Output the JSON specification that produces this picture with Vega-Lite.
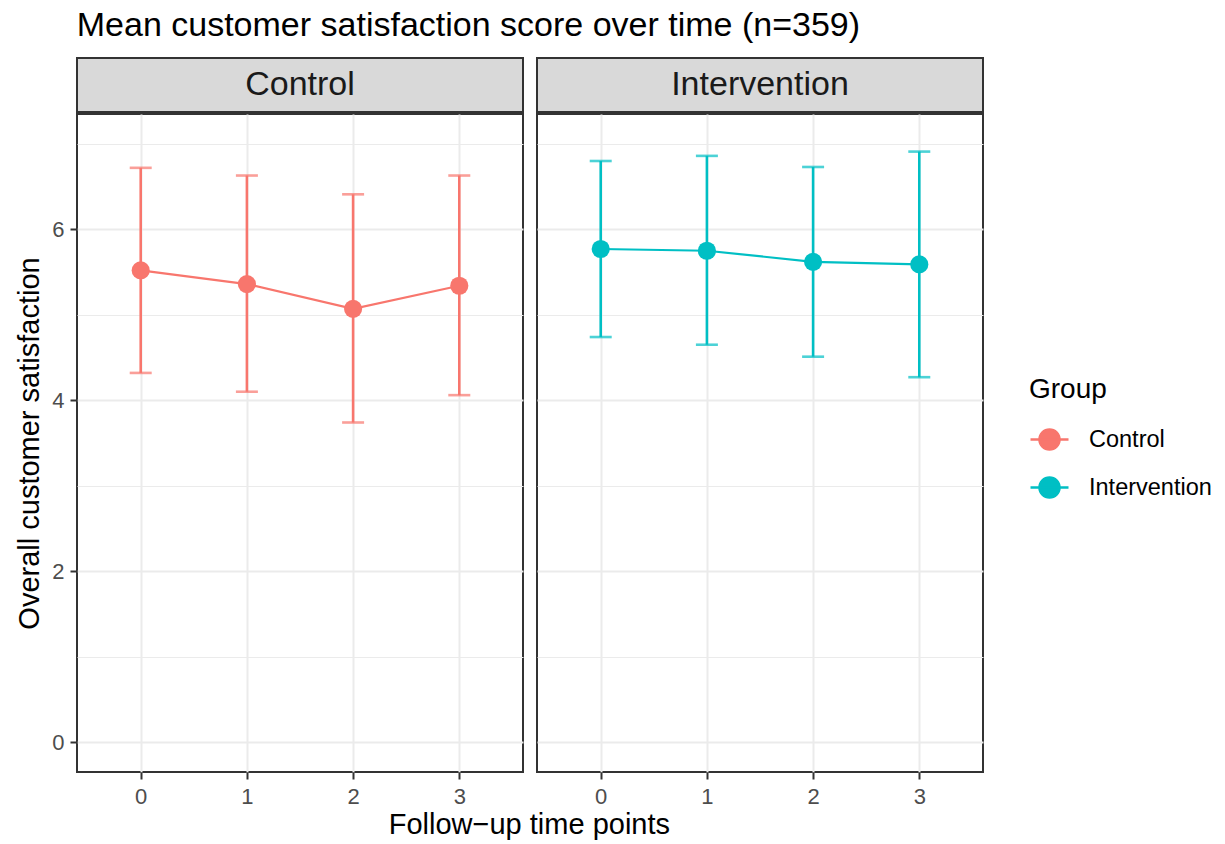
{
  "$schema": "https://vega.github.io/schema/vega-lite/v6.json",
  "padding": {"left": 14, "top": 9, "right": 10, "bottom": 8},
  "background": "white",
  "title": {
    "text": "Mean customer satisfaction score over time (n=359)",
    "anchor": "start",
    "frame": "bounds",
    "font": "Liberation Sans",
    "fontSize": 34,
    "fontWeight": "normal",
    "color": "#000000",
    "dx": 62,
    "offset": 14
  },
  "data": {
    "values": [
      {"Group": "Control", "time": 0, "mean": 5.52, "lower": 4.32, "upper": 6.72},
      {"Group": "Control", "time": 1, "mean": 5.36, "lower": 4.10, "upper": 6.63},
      {"Group": "Control", "time": 2, "mean": 5.07, "lower": 3.74, "upper": 6.41},
      {"Group": "Control", "time": 3, "mean": 5.34, "lower": 4.06, "upper": 6.63},
      {"Group": "Intervention", "time": 0, "mean": 5.77, "lower": 4.74, "upper": 6.80},
      {"Group": "Intervention", "time": 1, "mean": 5.75, "lower": 4.65, "upper": 6.86},
      {"Group": "Intervention", "time": 2, "mean": 5.62, "lower": 4.51, "upper": 6.73},
      {"Group": "Intervention", "time": 3, "mean": 5.59, "lower": 4.27, "upper": 6.91}
    ]
  },
  "config": {
    "font": "Liberation Sans",
    "view": {"stroke": "#333333", "strokeWidth": 2},
    "axis": {
      "domain": false,
      "gridColor": "#ebebeb",
      "tickColor": "#333333",
      "tickWidth": 2,
      "tickSize": 7,
      "labelColor": "#4d4d4d",
      "labelFont": "Liberation Sans",
      "labelFontSize": 22,
      "titleFont": "Liberation Sans",
      "titleFontSize": 29,
      "titleFontWeight": "normal",
      "titleColor": "#000000"
    }
  },
  "vconcat": [
    {
      "title": {
        "text": "Follow−up time points",
        "orient": "bottom",
        "anchor": "middle",
        "frame": "bounds",
        "font": "Liberation Sans",
        "fontSize": 29,
        "fontWeight": "normal",
        "color": "#000000",
        "dx": 30,
        "offset": 3
      },
      "spacing": 12,
      "hconcat": [
        {
          "spacing": 0,
          "vconcat": [
            {
              "width": 446,
              "height": 54,
              "view": {"fill": "#d9d9d9", "stroke": "#333333", "strokeWidth": 2},
              "transform": [
                {"filter": "datum.Group === 'Control'"},
                {"aggregate": [{"op": "count", "as": "n"}], "groupby": ["Group"]}
              ],
              "mark": {"type": "text", "font": "Liberation Sans", "fontSize": 34, "color": "#1a1a1a", "baseline": "middle", "align": "center"},
              "encoding": {"text": {"field": "Group", "type": "nominal"}}
            },
            {
              "width": 446,
              "height": 658,
              "transform": [{"filter": "datum.Group === 'Control'"}],
              "encoding": {
                "x": {
                  "field": "time",
                  "type": "quantitative",
                  "scale": {"domain": [-0.6, 3.6], "nice": false, "zero": false},
                  "axis": {
                    "values": [0, 1, 2, 3],
                    "format": "d",
                    "grid": true,
                    "gridWidth": 2,
                    "labelPadding": 7,
                    "title": null
                  }
                },
                "color": {
                  "field": "Group",
                  "type": "nominal",
                  "scale": {"domain": ["Control", "Intervention"], "range": ["#F8766D", "#00BFC4"]},
                  "legend": {
                    "orient": "none",
                    "legendX": 952,
                    "legendY": 318,
                    "title": "Group",
                    "titleFontSize": 28,
                    "titleFontWeight": "normal",
                    "titleColor": "#000000",
                    "titlePadding": 15,
                    "labelFontSize": 23.5,
                    "labelColor": "#000000",
                    "labelOffset": 19,
                    "symbolType": "M-1,0L1,0M0.53,0A0.53,0.53,0,1,1,-0.53,0A0.53,0.53,0,1,1,0.53,0Z",
                    "symbolSize": 1444,
                    "symbolStrokeWidth": 2.4,
                    "rowPadding": 12,
                    "encode": {
                      "symbols": {
                        "update": {
                          "fill": {"scale": "color", "field": "value"},
                          "stroke": {"scale": "color", "field": "value"},
                          "opacity": {"value": 1}
                        }
                      }
                    }
                  }
                }
              },
              "layer": [
                {
                  "mark": {"type": "errorbar", "ticks": {"size": 22}, "thickness": 2.6},
                  "encoding": {
                    "y": {
                      "field": "lower",
                      "type": "quantitative",
                      "scale": {"domain": [-0.35, 7.35], "nice": false, "zero": false},
                      "axis": {
                        "values": [0, 1, 2, 3, 4, 5, 6, 7],
                        "labelExpr": "datum.value % 2 === 0 ? datum.label : ''",
                        "grid": true,
                        "gridWidth": {"condition": {"test": "datum.value % 2 === 0", "value": 2}, "value": 1.2},
                        "tickOpacity": {"condition": {"test": "datum.value % 2 === 0", "value": 1}, "value": 0},
                        "labelPadding": 6,
                        "title": "Overall customer satisfaction",
                        "titlePadding": 7
                      }
                    },
                    "y2": {"field": "upper"}
                  }
                },
                {
                  "mark": {"type": "line", "strokeWidth": 2.2},
                  "encoding": {
                    "y": {
                      "field": "mean",
                      "type": "quantitative",
                      "axis": {
                        "values": [0, 1, 2, 3, 4, 5, 6, 7],
                        "labelExpr": "datum.value % 2 === 0 ? datum.label : ''",
                        "grid": true,
                        "gridWidth": {"condition": {"test": "datum.value % 2 === 0", "value": 2}, "value": 1.2},
                        "tickOpacity": {"condition": {"test": "datum.value % 2 === 0", "value": 1}, "value": 0},
                        "labelPadding": 6,
                        "title": "Overall customer satisfaction",
                        "titlePadding": 7
                      }
                    }
                  }
                },
                {
                  "mark": {"type": "point", "filled": true, "size": 330, "opacity": 1},
                  "encoding": {
                    "y": {
                      "field": "mean",
                      "type": "quantitative",
                      "axis": {
                        "values": [0, 1, 2, 3, 4, 5, 6, 7],
                        "labelExpr": "datum.value % 2 === 0 ? datum.label : ''",
                        "grid": true,
                        "gridWidth": {"condition": {"test": "datum.value % 2 === 0", "value": 2}, "value": 1.2},
                        "tickOpacity": {"condition": {"test": "datum.value % 2 === 0", "value": 1}, "value": 0},
                        "labelPadding": 6,
                        "title": "Overall customer satisfaction",
                        "titlePadding": 7
                      }
                    }
                  }
                }
              ]
            }
          ]
        },
        {
          "spacing": 0,
          "vconcat": [
            {
              "width": 446,
              "height": 54,
              "view": {"fill": "#d9d9d9", "stroke": "#333333", "strokeWidth": 2},
              "transform": [
                {"filter": "datum.Group === 'Intervention'"},
                {"aggregate": [{"op": "count", "as": "n"}], "groupby": ["Group"]}
              ],
              "mark": {"type": "text", "font": "Liberation Sans", "fontSize": 34, "color": "#1a1a1a", "baseline": "middle", "align": "center"},
              "encoding": {"text": {"field": "Group", "type": "nominal"}}
            },
            {
              "width": 446,
              "height": 658,
              "transform": [{"filter": "datum.Group === 'Intervention'"}],
              "encoding": {
                "x": {
                  "field": "time",
                  "type": "quantitative",
                  "scale": {"domain": [-0.6, 3.6], "nice": false, "zero": false},
                  "axis": {
                    "values": [0, 1, 2, 3],
                    "format": "d",
                    "grid": true,
                    "gridWidth": 2,
                    "labelPadding": 7,
                    "title": null
                  }
                },
                "color": {"field": "Group", "type": "nominal"}
              },
              "layer": [
                {
                  "mark": {"type": "errorbar", "ticks": {"size": 22}, "thickness": 2.6},
                  "encoding": {
                    "y": {
                      "field": "lower",
                      "type": "quantitative",
                      "scale": {"domain": [-0.35, 7.35], "nice": false, "zero": false},
                      "axis": {
                        "values": [0, 1, 2, 3, 4, 5, 6, 7],
                        "labels": false,
                        "ticks": false,
                        "grid": true,
                        "gridWidth": {"condition": {"test": "datum.value % 2 === 0", "value": 2}, "value": 1.2},
                        "title": null
                      }
                    },
                    "y2": {"field": "upper"}
                  }
                },
                {
                  "mark": {"type": "line", "strokeWidth": 2.2},
                  "encoding": {
                    "y": {
                      "field": "mean",
                      "type": "quantitative",
                      "axis": {
                        "values": [0, 1, 2, 3, 4, 5, 6, 7],
                        "labels": false,
                        "ticks": false,
                        "grid": true,
                        "gridWidth": {"condition": {"test": "datum.value % 2 === 0", "value": 2}, "value": 1.2},
                        "title": null
                      }
                    }
                  }
                },
                {
                  "mark": {"type": "point", "filled": true, "size": 330, "opacity": 1},
                  "encoding": {
                    "y": {
                      "field": "mean",
                      "type": "quantitative",
                      "axis": {
                        "values": [0, 1, 2, 3, 4, 5, 6, 7],
                        "labels": false,
                        "ticks": false,
                        "grid": true,
                        "gridWidth": {"condition": {"test": "datum.value % 2 === 0", "value": 2}, "value": 1.2},
                        "title": null
                      }
                    }
                  }
                }
              ]
            }
          ]
        }
      ]
    }
  ]
}
